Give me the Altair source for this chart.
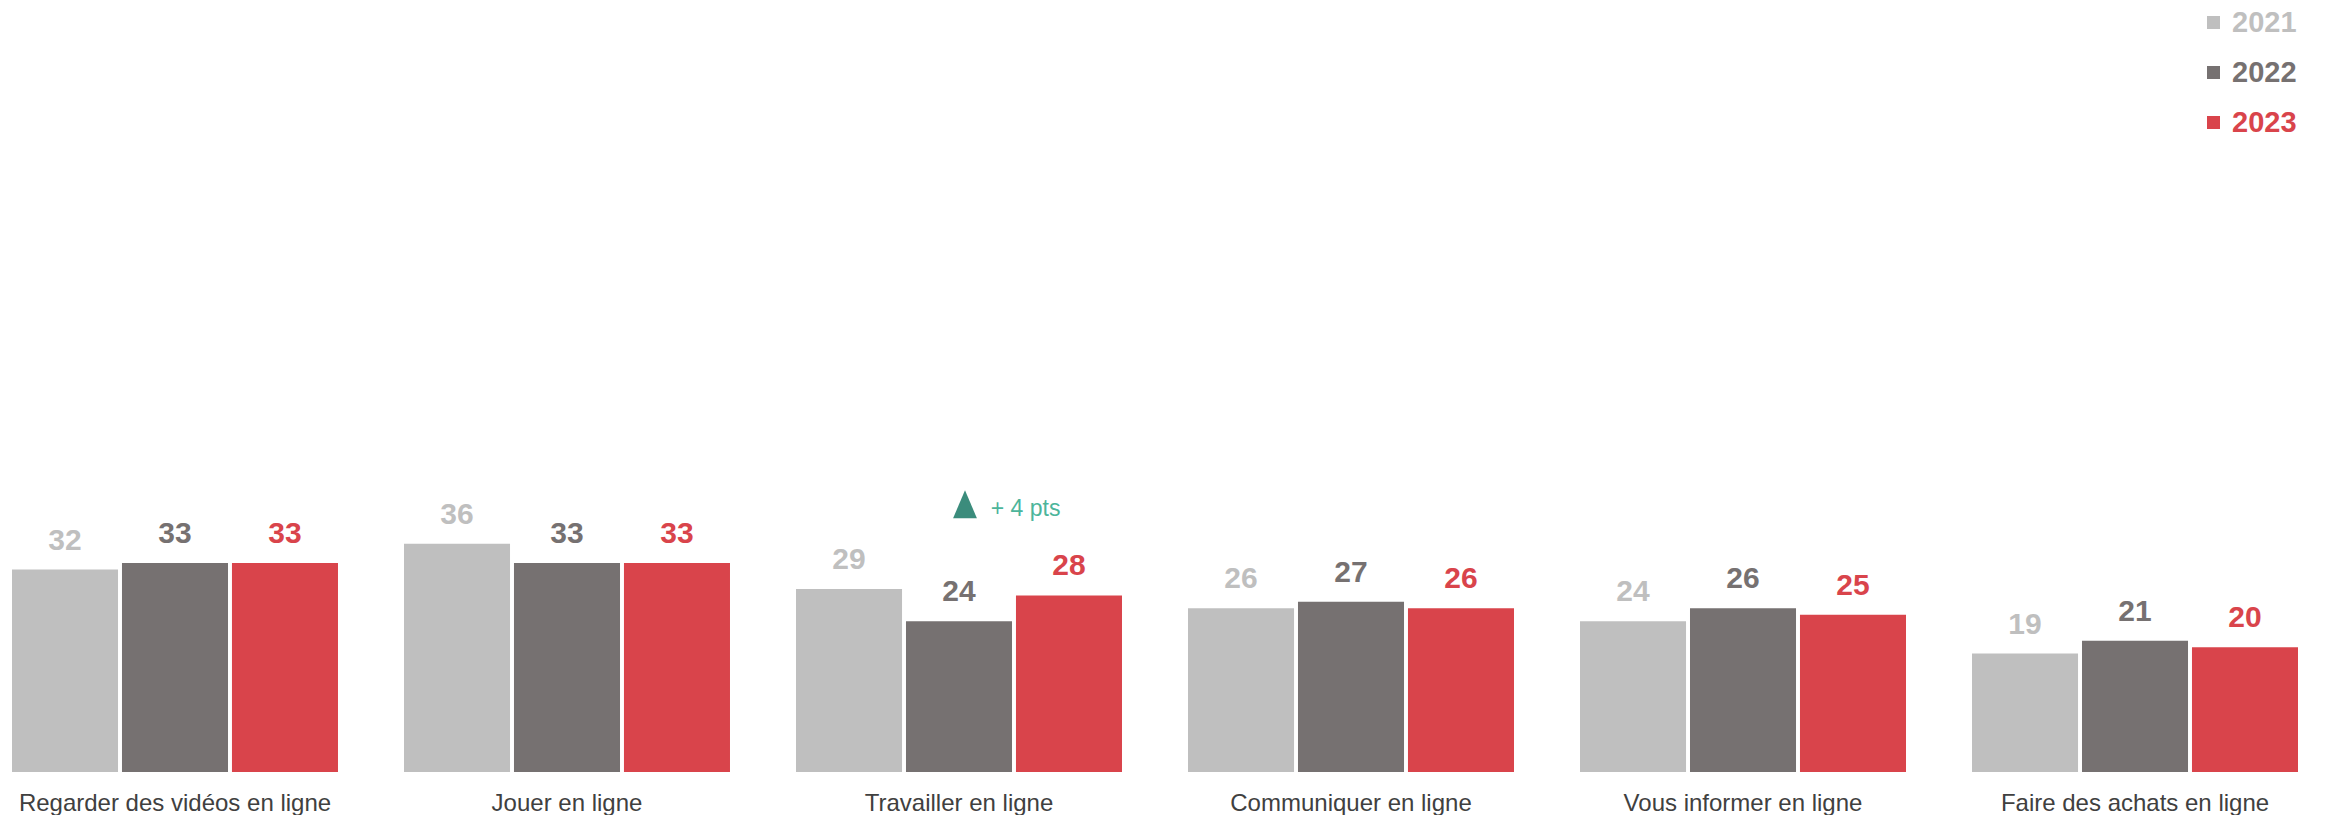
import altair as alt
import pandas as pd

categories = ["Regarder des vidéos en ligne", "Jouer en ligne", "Travailler en ligne",
              "Communiquer en ligne", "Vous informer en ligne", "Faire des achats en ligne"]
years = ["2021", "2022", "2023"]
values_2021 = [32, 36, 29, 26, 24, 19]
values_2022 = [33, 33, 24, 27, 26, 21]
values_2023 = [33, 33, 28, 26, 25, 20]
colors = ["#bfbfbf", "#767171", "#d9444b"]

annot_category = "Travailler en ligne"

rows = []
for yr, vals in zip(years, [values_2021, values_2022, values_2023]):
    for c, v in zip(categories, vals):
        rows.append({"cat": c, "year": yr, "value": v})
df = pd.DataFrame(rows)

i = categories.index(annot_category)
delta = values_2023[i] - values_2022[i]
ann = pd.DataFrame([{
    "cat": annot_category,
    "anchor": max(values_2021[i], values_2022[i], values_2023[i]),
    "label": f"+ {delta} pts",
}])

FONT = "Liberation Sans"

yscale = alt.Scale(domain=[0.7, 118.8], clamp=True, zero=False, nice=False)
xaxis = alt.Axis(title=None, labelAngle=0, domain=False, ticks=False, grid=False,
                 labelFontSize=24, labelColor="#404040", labelPadding=19, labelFont=FONT,
                 labelLimit=0)
x = alt.X("cat:N", sort=categories,
          scale=alt.Scale(paddingInner=0.1684, paddingOuter=0.0102), axis=xaxis)
xoff = alt.XOffset("year:N", sort=years, scale=alt.Scale(paddingInner=0.036, paddingOuter=0))

legend = alt.Legend(
    title=None, orient="none", legendX=2191, legendY=0, direction="vertical",
    symbolType="square", symbolSize=169, symbolStrokeWidth=0,
    labelFontSize=29, labelFontWeight="bold", labelFont=FONT, labelOffset=4,
    rowPadding=20, padding=0,
    labelColor=alt.ExprRef("scale('color', datum.value)"),
)

color = alt.Color("year:N", scale=alt.Scale(domain=years, range=colors), legend=legend)

base = alt.Chart(df)

bars = base.mark_bar().encode(
    x=x, xOffset=xoff,
    y=alt.Y("value:Q", scale=yscale, axis=None),
    color=color,
)

labels = base.mark_text(dy=-20, baseline="alphabetic", fontSize=30, fontWeight="bold", font=FONT).encode(
    x=x, xOffset=xoff,
    y=alt.Y("value:Q", scale=yscale, axis=None),
    text=alt.Text("value:Q", format="d"),
    color=alt.Color("year:N", scale=alt.Scale(domain=years, range=colors), legend=None),
)

tri = alt.Chart(ann).mark_point(
    shape="M0,-1L0.85,1L-0.85,1Z", filled=True, size=784, color="#3b8c7c", opacity=1,
    xOffset=6, yOffset=-84.7,
).encode(
    x=x,
    y=alt.Y("anchor:Q", scale=yscale, axis=None),
)

ann_text = alt.Chart(ann).mark_text(
    align="left", baseline="alphabetic", dx=31.7, dy=-73, fontSize=23, color="#4cb59b", font=FONT,
).encode(
    x=x,
    y=alt.Y("anchor:Q", scale=yscale, axis=None),
    text="label:N",
)

chart = alt.layer(bars, labels, tri, ann_text).properties(
    width=2294, height=764, padding=0, background="white",
).configure_view(stroke=None)

chart.save("out.html", embed_options={"renderer": "svg", "actions": False})
